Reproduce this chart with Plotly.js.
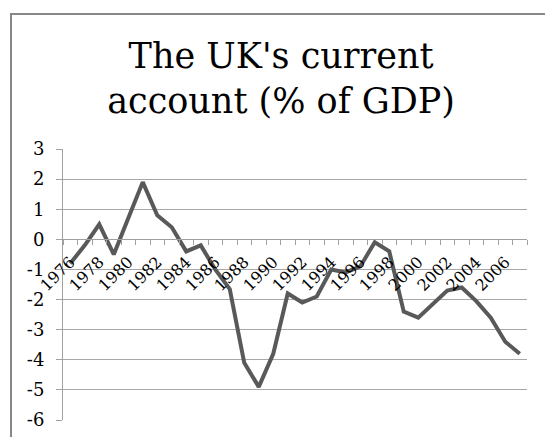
<!DOCTYPE html>
<html>
<head>
<meta charset="utf-8">
<script src="https://cdn.plot.ly/plotly-3.0.1.min.js"></script>
<style>html,body{margin:0;padding:0;background:#fff;}#chart{width:545px;height:437px;}</style>
</head>
<body>
<div id="chart"></div>
<script>
const years = [1976,1977,1978,1979,1980,1981,1982,1983,1984,1985,1986,1987,1988,1989,1990,1991,1992,1993,1994,1995,1996,1997,1998,1999,2000,2001,2002,2003,2004,2005,2006,2007];
const currentAccount = [-0.8,-0.2,0.5,-0.5,0.7,1.9,0.8,0.4,-0.4,-0.2,-1.0,-1.65,-4.1,-4.9,-3.8,-1.8,-2.1,-1.9,-1.0,-1.1,-0.9,-0.1,-0.4,-2.4,-2.6,-2.15,-1.7,-1.6,-2.05,-2.6,-3.4,-3.8];
const xTickVals = [1976,1978,1980,1982,1984,1986,1988,1990,1992,1994,1996,1998,2000,2002,2004,2006];
const xTickText = ["1976","1978","1980","1982","1984","1986","1988","1990","1992","1994","1996","1998","2000","2002","2004","2006"];
const yTickVals = [3,2,1,0,-1,-2,-3,-4,-5,-6];
const yTickText = ["3","2","1","0","-1","-2","-3","-4","-5","-6"];
const titleText = "The UK's current<br>account (% of GDP)";

const serif = "'DejaVu Serif', 'Liberation Serif', serif";
const trace = {
  x: years, y: currentAccount, type: 'scatter', mode: 'lines',
  line: {color: '#595959', width: 4, shape: 'linear'},
  hoverinfo: 'x+y'
};
const layout = {
  width: 545, height: 437,
  margin: {l: 63, r: 18, t: 149, b: 17, pad: 0},
  paper_bgcolor: '#ffffff', plot_bgcolor: '#ffffff',
  showlegend: false,
  title: {
    text: titleText,
    font: {family: serif, size: 35, color: '#000000'},
    x: 0.47, xanchor: 'center', xref: 'paper',
    y: 0.845, yanchor: 'top', yref: 'container'
  },
  xaxis: {
    type: 'linear', range: [1975.5, 2007.5],
    anchor: 'free', position: 6/9,
    tickmode: 'array', tickvals: xTickVals, ticktext: xTickText,
    tickangle: -45, ticks: '', ticklabelstandoff: 6, showgrid: false, zeroline: false,
    showline: true, linecolor: '#a0a0a0', linewidth: 1,
    tickfont: {family: serif, size: 16, color: '#000000'},
    minor: {tick0: 1975.5, dtick: 1, ticks: 'outside', ticklen: 5, tickcolor: '#a0a0a0', tickwidth: 1, showgrid: false},
    fixedrange: true
  },
  yaxis: {
    range: [-6, 3], domain: [0, 1],
    tickmode: 'array', tickvals: yTickVals, ticktext: yTickText,
    ticks: 'outside', ticklen: 6, tickcolor: '#a0a0a0', tickwidth: 1,
    ticklabelstandoff: 8,
    showgrid: true, gridcolor: '#a8a8a8', gridwidth: 1,
    zeroline: false, showline: true, linecolor: '#a0a0a0', linewidth: 1,
    tickfont: {family: serif, size: 18, color: '#000000'},
    fixedrange: true
  },
  shapes: [{
    type: 'rect', xref: 'paper', yref: 'paper',
    x0: (11 - 63) / 464, x1: (570 - 63) / 464,
    y0: (420 - 460) / 271, y1: (420 - 14) / 271,
    line: {color: '#878787', width: 2}, fillcolor: 'rgba(0,0,0,0)', layer: 'below'
  }]
};
Plotly.newPlot('chart', [trace], layout, {displayModeBar: false, staticPlot: true});
</script>
</body>
</html>
